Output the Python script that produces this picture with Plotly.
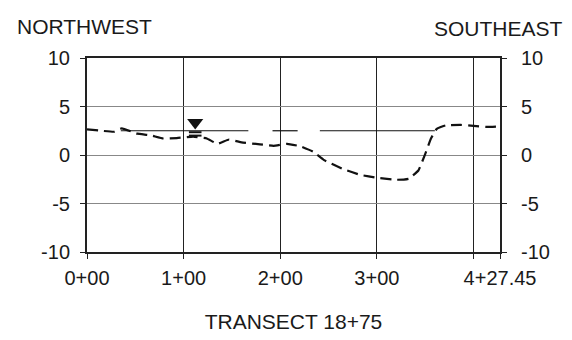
import plotly.graph_objects as go

# ground profile along the transect (station in ft, elevation in ft)
station = [0, 15, 28, 36, 52, 65, 79, 93, 110, 124, 135, 147, 160, 179, 193, 207, 221,
           234, 245, 265, 283, 300, 321, 333, 343, 350, 356, 362, 371, 387, 400, 414, 427.45]
ground = [2.65, 2.5, 2.4, 2.75, 2.2, 2.05, 1.7, 1.75, 1.9, 1.7, 1.15, 1.6, 1.3, 1.1, 0.95, 1.15, 0.9,
          0.35, -0.5, -1.45, -2.05, -2.35, -2.55, -2.45, -1.6, 0.1, 1.7, 2.7, 3.05, 3.1, 3.0, 2.9, 2.95]

# water surface (drawn in pieces like the original)
water_x = [35, 167, None, 192, 218, None, 241, 360]
water_y = [2.5, 2.5, None, 2.5, 2.5, None, 2.5, 2.5]

# water surface symbol
wsym_x = [112]
wsym_y = [3.35]
wsym_bars_y = [2.35, 2.0]

x_tickvals = [0, 100, 200, 300, 400, 427.45]
x_ticktext = ["0+00", "1+00", "2+00", "3+00", "", "4+27.45"]
y_tickvals = [-10, -5, 0, 5, 10]
y_ticktext = ["-10", "-5", "0", "5", "10"]

# page has an 8px body margin, so the figure is drawn 8px smaller
OFF = 8
W, H = 572 - OFF, 340 - OFF
ML, MR, MT, MB = 87 - OFF, 72, 58 - OFF, 88

fig = go.Figure()

fig.add_trace(go.Scatter(
    x=water_x, y=water_y, mode="lines",
    line=dict(color="#111", width=1.2), connectgaps=False, hoverinfo="skip",
))

fig.add_trace(go.Scatter(
    x=station, y=ground, mode="lines",
    line=dict(color="#111", width=2.2, dash="11px,6px", shape="spline", smoothing=0.3),
))

fig.add_trace(go.Scatter(
    x=wsym_x, y=wsym_y, mode="markers",
    marker=dict(symbol="triangle-down", size=14, color="#111"),
))
fig.add_trace(go.Scatter(
    x=wsym_x * len(wsym_bars_y), y=wsym_bars_y, mode="markers",
    marker=dict(symbol="line-ew", size=9, line=dict(color="#111", width=2)),
))

# dummy trace so the right axis is drawn
fig.add_trace(go.Scatter(x=[None], y=[None], yaxis="y2", showlegend=False))

fig.update_layout(
    width=W, height=H,
    margin=dict(l=ML, r=MR, t=MT, b=MB),
    paper_bgcolor="white", plot_bgcolor="white",
    showlegend=False,
    font=dict(family="Liberation Sans, Arial, sans-serif", size=20, color="#1a1a1a"),
    xaxis=dict(
        range=[0, 427.45], tickvals=x_tickvals, ticktext=x_ticktext,
        showgrid=True, gridcolor="#222", gridwidth=1,
        showline=True, linecolor="#222", linewidth=2, mirror=True,
        ticks="outside", ticklen=5, tickcolor="#222", zeroline=False,
        ticklabelstandoff=2,
        title=dict(text="TRANSECT 18+75", standoff=26, font=dict(size=21)), automargin=False,
    ),
    yaxis=dict(
        range=[-10, 10], tickvals=y_tickvals, ticktext=y_ticktext,
        showgrid=True, gridcolor="#888", gridwidth=1,
        showline=True, linecolor="#222", linewidth=2,
        ticks="outside", ticklen=5, tickcolor="#222", zeroline=False,
        ticklabelstandoff=6, automargin=False,
    ),
    yaxis2=dict(
        range=[-10, 10], tickvals=y_tickvals, ticktext=y_ticktext,
        overlaying="y", side="right",
        showgrid=False, showline=True, linecolor="#222", linewidth=2,
        ticks="outside", ticklen=5, tickcolor="#222", zeroline=False,
        ticklabelstandoff=10, automargin=False,
    ),
)

# side labels, placed by page pixel position
pw, ph = W - ML - MR, H - MT - MB
for text, px, py, anchor in [("NORTHWEST", 15, 27, "left"), ("SOUTHEAST", 565, 28, "right")]:
    fig.add_annotation(
        text=text, showarrow=False, xref="paper", yref="paper",
        x=(px - OFF - ML) / pw, y=(H - MB - (py - OFF)) / ph,
        xanchor=anchor, yanchor="middle", font=dict(size=21),
    )

fig.write_html("out.html")
